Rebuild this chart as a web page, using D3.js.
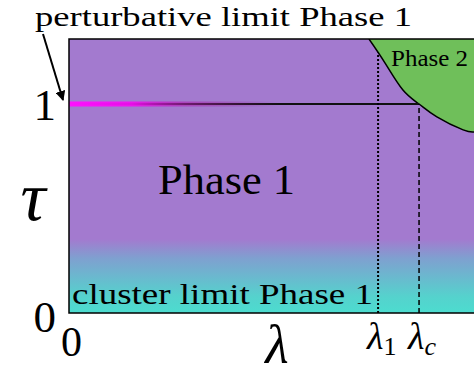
<!DOCTYPE html>
<html>
<head>
<meta charset="utf-8">
<script src="https://cdn.jsdelivr.net/npm/d3@7"></script>
<style>
    body { margin: 0; background: #fff; }
    svg { display: block; }
</style>
</head>
<body>
<script>
// data
const lambdaMax = 1.157;
const tauMax = 1.311;
const lambda1 = 0.883;
const lambdaC = 1.0;
const tauLine = 1.0;
const tauTicks = [0, 1];
const lambdaTicks = [0];
const boundaryLambda = [0.857, 0.903, 0.954, 1.0, 1.051, 1.126, 1.157];
const boundaryTau = [1.311, 1.196, 1.067, 1.0, 0.938, 0.876, 0.866];

const serif = "Liberation Serif";

const width = 474, height = 379;
const margin = {top: 39, right: 0, bottom: 66, left: 69};

const svg = d3.select("body").append("svg")
    .attr("width", width)
    .attr("height", height);

const x = d3.scaleLinear()
    .domain([0, lambdaMax])
    .range([margin.left, width - margin.right]);

const y = d3.scaleLinear()
    .domain([0, tauMax])
    .range([height - margin.bottom, margin.top]);

const defs = svg.append("defs");

// background: purple fading to turquoise near tau = 0
const bg = defs.append("linearGradient")
    .attr("id", "bg")
    .attr("gradientUnits", "userSpaceOnUse")
    .attr("x1", 0).attr("x2", 0)
    .attr("y1", y(0)).attr("y2", y(tauMax));
bg.append("stop").attr("offset", 0).attr("stop-color", "#4cdccf");
bg.append("stop").attr("offset", 0.06).attr("stop-color", "#55d2cd");
bg.append("stop").attr("offset", 0.2).attr("stop-color", "#7fa0d0");
bg.append("stop").attr("offset", 0.27).attr("stop-color", "#a37acf");
bg.append("stop").attr("offset", 1).attr("stop-color", "#a37acf");

const glow = defs.append("linearGradient")
    .attr("id", "glow")
    .attr("gradientUnits", "userSpaceOnUse")
    .attr("x1", x(0)).attr("x2", x(0.6))
    .attr("y1", 0).attr("y2", 0);
glow.append("stop").attr("offset", 0).attr("stop-color", "#ff10ff").attr("stop-opacity", 1);
glow.append("stop").attr("offset", 0.3).attr("stop-color", "#f010f0").attr("stop-opacity", 0.95);
glow.append("stop").attr("offset", 0.55).attr("stop-color", "#b020b0").attr("stop-opacity", 0.6);
glow.append("stop").attr("offset", 1).attr("stop-color", "#802080").attr("stop-opacity", 0);

defs.append("clipPath").attr("id", "plot")
    .append("rect")
    .attr("x", x(0)).attr("y", y(tauMax))
    .attr("width", x(lambdaMax) - x(0))
    .attr("height", y(0) - y(tauMax));

defs.append("marker")
    .attr("id", "arrow")
    .attr("viewBox", "0 0 10 10")
    .attr("refX", 9).attr("refY", 5)
    .attr("markerWidth", 5).attr("markerHeight", 5)
    .attr("orient", "auto")
    .append("path")
    .attr("d", "M0,0L10,5L0,10z")
    .attr("fill", "#000");

const plot = svg.append("g").attr("clip-path", "url(#plot)");

plot.append("rect")
    .attr("x", x(0)).attr("y", y(tauMax))
    .attr("width", x(lambdaMax) - x(0))
    .attr("height", y(0) - y(tauMax))
    .attr("fill", "url(#bg)");

// phase 2 region
const boundary = boundaryLambda.map((l, i) => [l, boundaryTau[i]]);
const curve = d3.line()
    .x(d => x(d[0]))
    .y(d => y(d[1]))
    .curve(d3.curveNatural);

plot.append("path")
    .attr("d", curve(boundary) + `L${x(lambdaMax) + 5},${y(boundaryTau[boundaryTau.length - 1])}L${x(lambdaMax) + 5},${y(tauMax) - 5}L${x(boundaryLambda[0])},${y(tauMax) - 5}Z`)
    .attr("fill", "#6fbf5a")
    .attr("stroke", "none");

plot.append("path")
    .attr("d", curve(boundary))
    .attr("fill", "none")
    .attr("stroke", "#000")
    .attr("stroke-width", 1.5);

// tau = 1 line
plot.append("line")
    .attr("x1", x(0)).attr("x2", x(lambdaC))
    .attr("y1", y(tauLine)).attr("y2", y(tauLine))
    .attr("stroke", "#111")
    .attr("stroke-width", 2);

plot.append("line")
    .attr("x1", x(0)).attr("x2", x(0.6))
    .attr("y1", y(tauLine)).attr("y2", y(tauLine))
    .attr("stroke", "url(#glow)")
    .attr("stroke-width", 5);

// vertical markers
const tauAt1 = d3.scaleLinear().domain(boundaryLambda).range(boundaryTau)(lambda1);
plot.append("line")
    .attr("x1", x(lambda1)).attr("x2", x(lambda1))
    .attr("y1", y(0)).attr("y2", y(tauAt1))
    .attr("stroke", "#000")
    .attr("stroke-width", 2)
    .attr("stroke-dasharray", "2,2");

plot.append("line")
    .attr("x1", x(lambdaC)).attr("x2", x(lambdaC))
    .attr("y1", y(0)).attr("y2", y(tauLine))
    .attr("stroke", "#000")
    .attr("stroke-width", 1.5)
    .attr("stroke-dasharray", "5,3");

// frame (left, top, bottom)
svg.append("path")
    .attr("d", `M${width + 2},${y(tauMax)}H${x(0)}V${y(0)}H${width + 2}`)
    .attr("fill", "none")
    .attr("stroke", "#000")
    .attr("stroke-width", 1.5);

// axes
const yAxis = svg.append("g")
    .attr("transform", `translate(${x(0)},0)`)
    .call(d3.axisLeft(y).tickValues(tauTicks).tickSize(0).tickPadding(13).tickFormat(d3.format("d")))
    .attr("font-family", serif);
yAxis.select(".domain").remove();
yAxis.selectAll("text")
    .attr("font-size", 45)
    .attr("dy", d => d === 0 ? "0.42em" : "0.34em");

const xAxis = svg.append("g")
    .attr("transform", `translate(0,${y(0)})`)
    .call(d3.axisBottom(x).tickValues(lambdaTicks).tickSize(0).tickPadding(13).tickFormat(d3.format("d")))
    .attr("font-family", serif);
xAxis.select(".domain").remove();
xAxis.selectAll("text")
    .attr("font-size", 42)
    .attr("dx", 2);

// lambda_1 and lambda_c labels
const sub = [[lambda1, "1", "normal"], [lambdaC, "c", "italic"]];
sub.forEach(([v, s, st]) => {
    const t = svg.append("text")
        .attr("x", x(v) - 11)
        .attr("y", y(0) + 36)
        .attr("font-family", serif)
        .attr("font-size", 38);
    t.append("tspan").attr("font-style", "italic").text("λ");
    t.append("tspan").attr("dy", 6).attr("font-size", 26).attr("font-style", st).text(s);
});

// axis titles
svg.append("text")
    .attr("x", 277).attr("y", 363)
    .attr("text-anchor", "middle")
    .attr("font-family", serif)
    .attr("font-size", 54)
    .attr("font-style", "italic")
    .text("λ");

svg.append("text")
    .attr("x", 33).attr("y", 220)
    .attr("text-anchor", "middle")
    .attr("font-family", serif)
    .attr("font-size", 70)
    .attr("font-style", "italic")
    .text("τ");

// region labels
const labels = [
    {text: "Phase 1", x: 158, y: 194, len: 137, size: 42},
    {text: "Phase 2", x: 391, y: 66, len: 77, size: 24},
    {text: "cluster limit Phase 1", x: 72, y: 304, len: 301, size: 30},
    {text: "perturbative limit Phase 1", x: 35, y: 26, len: 377, size: 28}
];
svg.selectAll("text.label")
    .data(labels)
    .join("text")
    .attr("class", "label")
    .attr("x", d => d.x)
    .attr("y", d => d.y)
    .attr("textLength", d => d.len)
    .attr("lengthAdjust", "spacingAndGlyphs")
    .attr("font-family", serif)
    .attr("font-size", d => d.size)
    .text(d => d.text);

// arrow to the perturbative limit
svg.append("line")
    .attr("x1", 43).attr("y1", 34)
    .attr("x2", 63).attr("y2", 100)
    .attr("stroke", "#000")
    .attr("stroke-width", 2)
    .attr("marker-end", "url(#arrow)");
</script>
</body>
</html>
